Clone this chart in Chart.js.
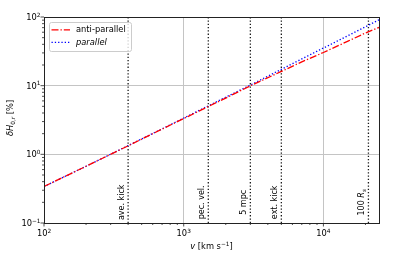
<!DOCTYPE html>
<html>
<head>
<meta charset="utf-8">
<script src="https://cdn.jsdelivr.net/npm/chart.js@4/dist/chart.umd.min.js"></script>
<style>
html,body{margin:0;padding:0;background:#fff;}
canvas{display:block;}
</style>
</head>
<body>
<canvas id="c" width="399" height="263"></canvas>
<script>
// ---- data ----
const velocities   = [100, 200, 400, 700, 1000, 1500, 2000, 3000, 5000, 7000, 10000, 15000, 20000, 25000];
const antiParallel = [0.34, 0.67, 1.33, 2.33, 3.32, 4.97, 6.6, 9.95, 16.1, 22.2, 30.4, 44.5, 58.5, 70.5];
const parallel     = [0.34, 0.67, 1.34, 2.35, 3.37, 5.08, 6.8, 10.2, 17.3, 24.5, 35.3, 53.5, 72, 91];
const seriesNames  = ['anti-parallel', 'parallel'];

const markerVelocities = [400, 1500, 3000, 5000, 21000];
const markerLabels = ['ave. kick', 'pec. vel.', '5 mpc', 'ext. kick', '100 R_s'];

// tick labels: base and exponent (10^exp)
const xTickValues = [100, 1000, 10000];
const xTickLabels = ['10^2', '10^3', '10^4'];
const yTickValues = [0.1, 1, 10, 100];
const yTickLabels = ['10^\u22121', '10^0', '10^1', '10^2'];

const xRange = [100, 25000];
const yRange = [0.1, 100];

const FONT = '"DejaVu Sans"';
const FS = 8.3;

function toPoints(xs, ys){ return xs.map((x,i)=>({x:x, y:ys[i]})); }
function isMajor(v){ const l = Math.log10(v); return Math.abs(l - Math.round(l)) < 1e-6; }
function logTicks(min, max){
  const out = [];
  const e0 = Math.floor(Math.log10(min)), e1 = Math.ceil(Math.log10(max));
  for (let e = e0; e <= e1; e++) {
    for (let m = 1; m <= 9; m++) {
      const v = parseFloat((m * Math.pow(10, e)).toPrecision(6));
      if (v >= min - 1e-12 && v <= max + 1e-9) out.push({value: v});
    }
  }
  return out;
}

const datasets = [
  {label: seriesNames[0], data: toPoints(velocities, antiParallel), borderColor: '#ff0000',
   borderWidth: 1.3, borderDash: [7, 2, 1.3, 2], pointRadius: 0, fill: false, tension: 0},
  {label: seriesNames[1], data: toPoints(velocities, parallel), borderColor: '#0000ff',
   borderWidth: 1.3, borderDash: [1.3, 2], pointRadius: 0, fill: false, tension: 0}
];
markerVelocities.forEach((v, i) => {
  datasets.push({label: markerLabels[i], data: [{x: v, y: yRange[0]}, {x: v, y: yRange[1]}],
    borderColor: '#1a1a1a', borderWidth: 1.3, borderDash: [1.3, 2], pointRadius: 0, fill: false});
});

function segFont(s, size){
  const sz = (s.sub || s.sup) ? size * 0.7 : size;
  return (s.it ? 'italic ' : '') + sz + 'px ' + FONT;
}
function drawRich(ctx, segs, cx, cy, size, rot, align){
  ctx.save();
  ctx.translate(cx, cy);
  ctx.rotate(rot);
  let w = 0;
  segs.forEach(s => { ctx.font = segFont(s, size); w += ctx.measureText(s.t).width; });
  let x = align === 'right' ? -w : (align === 'left' ? 0 : -w / 2);
  const base = size * 0.36;
  ctx.textBaseline = 'alphabetic';
  ctx.textAlign = 'left';
  ctx.fillStyle = '#000';
  segs.forEach(s => {
    ctx.font = segFont(s, size);
    let dy = 0;
    if (s.sub) dy = size * 0.22;
    if (s.sup) dy = -size * 0.42;
    ctx.fillText(s.t, x, base + dy);
    x += ctx.measureText(s.t).width;
  });
  ctx.restore();
}
function labelSegs(t){
  if (t === '100 R_s') return [{t:'100 '}, {t:'R', it:true}, {t:'s', sub:true, it:true}];
  return [{t:t}];
}
function powSegs(t){
  const p = t.split('^');
  return [{t:p[0]}, {t:p[1], sup:true}];
}

const decorPlugin = {
  id: 'decor',
  afterDraw(chart){
    const ctx = chart.ctx, ca = chart.chartArea;
    const xs = chart.scales.x, ys = chart.scales.y;
    // tick marks
    ctx.save();
    ctx.strokeStyle = '#222';
    ctx.lineWidth = 0.8;
    xs.ticks.forEach(t => {
      const px = xs.getPixelForValue(t.value);
      const len = isMajor(t.value) ? 3.5 : 2;
      ctx.beginPath(); ctx.moveTo(px, ca.bottom); ctx.lineTo(px, ca.bottom + len); ctx.stroke();
    });
    ys.ticks.forEach(t => {
      const py = ys.getPixelForValue(t.value);
      const len = isMajor(t.value) ? 3.5 : 2;
      ctx.beginPath(); ctx.moveTo(ca.left, py); ctx.lineTo(ca.left - len, py); ctx.stroke();
    });
    // spines
    ctx.lineWidth = 1;
    ctx.strokeStyle = '#222';
    ctx.strokeRect(Math.round(ca.left) + 0.5, Math.round(ca.top) + 0.5,
                   Math.round(ca.right) - Math.round(ca.left), Math.round(ca.bottom) - Math.round(ca.top));
    ctx.restore();

    // tick labels
    xTickValues.forEach((v, i) => {
      drawRich(ctx, powSegs(xTickLabels[i]), xs.getPixelForValue(v), ca.bottom + 10.5, FS, 0, 'center');
    });
    yTickValues.forEach((v, i) => {
      drawRich(ctx, powSegs(yTickLabels[i]), ca.left - 3.5, ys.getPixelForValue(v), FS, 0, 'right');
    });

    // marker labels
    markerVelocities.forEach((v, i) => {
      const px = xs.getPixelForValue(v * 0.89);
      const py = ys.getPixelForValue(0.2);
      drawRich(ctx, labelSegs(markerLabels[i]), px, py, 8, -Math.PI / 2, 'center');
    });

    // axis titles
    drawRich(ctx, [{t:'v', it:true}, {t:' [km s'}, {t:'\u22121', sup:true}, {t:']'}],
             (ca.left + ca.right) / 2, 246, FS, 0, 'center');
    drawRich(ctx, [{t:'\u03B4H', it:true}, {t:'0,', sub:true}, {t:'r', sub:true, it:true}, {t:' [%]'}],
             10.5, (ca.top + ca.bottom) / 2 - 2, FS, -Math.PI / 2, 'center');

    // legend
    const lx = 49, ly = 22, lw = 82, lh = 29;
    ctx.save();
    ctx.beginPath();
    if (ctx.roundRect) ctx.roundRect(lx + 0.5, ly + 0.5, lw, lh, 2); else ctx.rect(lx + 0.5, ly + 0.5, lw, lh);
    ctx.fillStyle = 'rgba(255,255,255,0.8)';
    ctx.fill();
    ctx.strokeStyle = '#cccccc';
    ctx.lineWidth = 1;
    ctx.stroke();
    [0, 1].forEach(i => {
      const ds = chart.data.datasets[i];
      const yy = ly + 7.8 + i * 12.6;
      ctx.beginPath();
      ctx.setLineDash(ds.borderDash);
      ctx.strokeStyle = ds.borderColor;
      ctx.lineWidth = ds.borderWidth;
      ctx.moveTo(lx + 2.5, yy); ctx.lineTo(lx + 21, yy);
      ctx.stroke();
      ctx.setLineDash([]);
      ctx.fillStyle = '#000';
      ctx.font = (i === 1 ? 'italic ' : '') + FS + 'px ' + FONT;
      ctx.textBaseline = 'middle';
      ctx.textAlign = 'left';
      ctx.fillText(ds.label, lx + 27, yy);
    });
    ctx.restore();
  }
};

new Chart(document.getElementById('c'), {
  type: 'line',
  data: {datasets: datasets},
  plugins: [decorPlugin],
  options: {
    responsive: false,
    animation: false,
    devicePixelRatio: 1,
    layout: {padding: {top: 17, right: 20, left: 0, bottom: 0}},
    plugins: {legend: {display: false}, tooltip: {enabled: false}},
    scales: {
      x: {
        type: 'logarithmic', min: xRange[0], max: xRange[1],
        afterBuildTicks: s => { s.ticks = logTicks(xRange[0], xRange[1]); },
        afterFit: s => { s.height = 40; },
        grid: {color: c => (c.tick && isMajor(c.tick.value)) ? '#c4c4c4' : 'rgba(0,0,0,0)', lineWidth: 1, drawTicks: false},
        border: {display: false},
        ticks: {display: false, autoSkip: false}
      },
      y: {
        type: 'logarithmic', min: yRange[0], max: yRange[1],
        afterBuildTicks: s => { s.ticks = logTicks(yRange[0], yRange[1]); },
        afterFit: s => { s.width = 44; },
        grid: {color: c => (c.tick && isMajor(c.tick.value)) ? '#c4c4c4' : 'rgba(0,0,0,0)', lineWidth: 1, drawTicks: false},
        border: {display: false},
        ticks: {display: false, autoSkip: false}
      }
    }
  }
});
</script>
</body>
</html>
